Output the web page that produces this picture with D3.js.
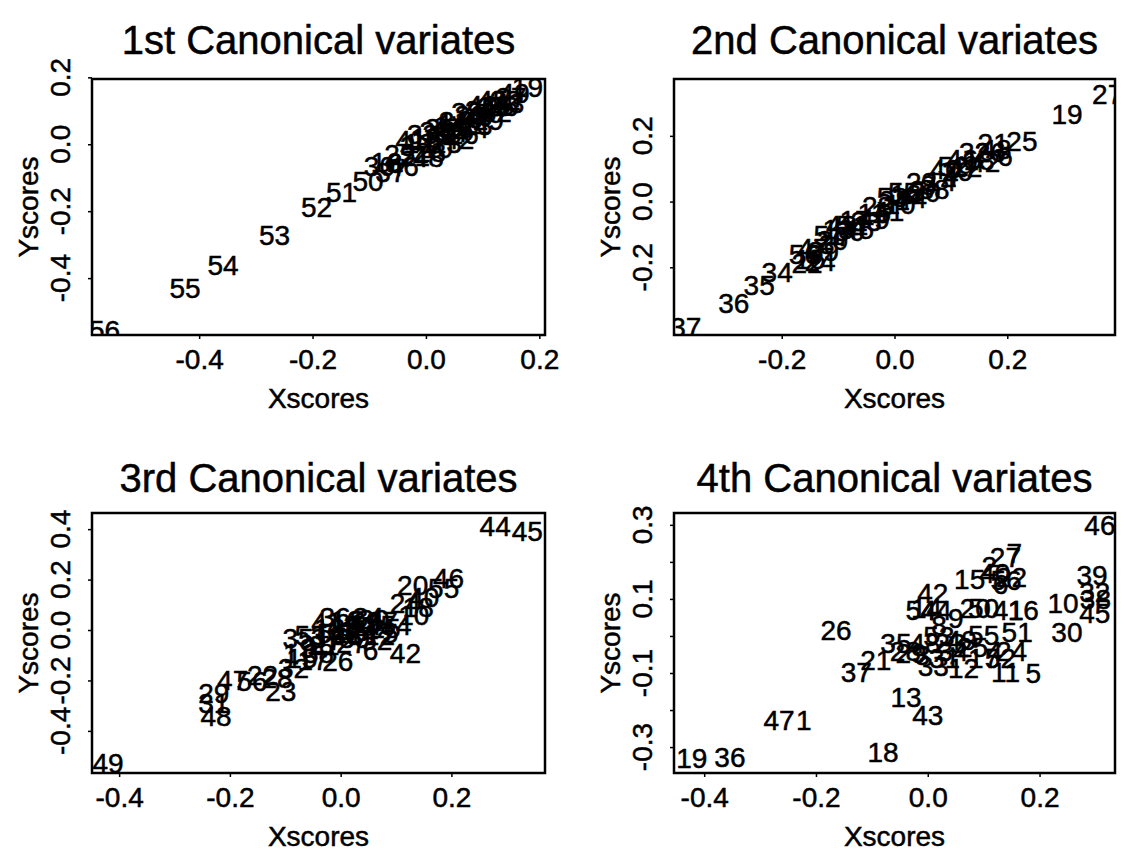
<!DOCTYPE html>
<html>
<head>
<meta charset="utf-8">
<script src="https://cdn.jsdelivr.net/npm/d3@7"></script>
<style>
body {margin:0; background:#fff;}
text {font-family: "Liberation Sans", Arial, sans-serif; fill:#000; stroke:#000; stroke-width:0.5px;}
</style>
</head>
<body>
<div id="chart"></div>
<script>
// observation labels, 56 cases in every panel
var labels = ["1","2","3","4","5","6","7","8","9","10","11","12","13","14","15","16","17","18","19","20",
  "21","22","23","24","25","26","27","28","29","30","31","32","33","34","35","36","37","38","39","40",
  "41","42","43","44","45","46","47","48","49","50","51","52","53","54","55","56"];

var titles = ["1st Canonical variates", "2nd Canonical variates", "3rd Canonical variates", "4th Canonical variates"];

// 1st canonical variates
var x1 = [0.030,0.062,-0.032,0.085,0.012,0.104,0.046,-0.055,0.070,0.020,0.115,-0.012,0.090,0.040,0.128,-0.070,0.054,0.000,0.179,0.078,
  -0.020,0.140,0.036,0.096,-0.046,0.066,0.150,0.008,0.110,-0.082,0.050,0.124,-0.006,0.084,0.026,0.136,-0.062,0.072,0.016,0.100,
  -0.026,0.058,0.146,0.044,0.118,-0.040,0.092,0.004,0.156,-0.102,-0.149,-0.193,-0.267,-0.358,-0.425,-0.567];
var y1 = [0.030,0.046,-0.004,0.080,0.010,0.084,0.038,-0.056,0.072,-0.010,0.114,0.004,0.058,0.054,0.116,-0.052,0.036,0.018,0.171,0.088,
  -0.036,0.132,0.004,0.104,-0.028,0.032,0.142,-0.022,0.074,-0.064,0.070,0.096,0.030,0.048,0.048,0.114,-0.082,0.098,0.040,0.118,
  0.012,0.016,0.124,0.064,0.132,-0.066,0.078,-0.038,0.152,-0.111,-0.141,-0.186,-0.270,-0.360,-0.429,-0.556];

// 2nd canonical variates
var x2 = [-0.060,0.040,-0.120,0.100,-0.020,0.196,-0.090,0.060,-0.140,0.010,-0.040,0.128,-0.100,0.082,-0.150,0.020,-0.070,0.150,0.306,-0.110,
  0.175,-0.155,0.048,-0.132,0.226,0.170,0.378,-0.030,0.112,-0.080,0.000,0.142,-0.050,-0.208,-0.240,-0.285,-0.370,0.070,-0.126,0.090,
  -0.010,0.160,-0.094,0.030,-0.064,0.120,-0.144,0.180,-0.036,0.054,-0.116,0.104,-0.004,-0.076,0.016,-0.160];
var y2 = [-0.070,0.036,-0.128,0.080,-0.034,0.139,-0.104,0.052,-0.160,-0.006,-0.036,0.106,-0.084,0.064,-0.176,0.022,-0.056,0.128,0.267,-0.118,
  0.179,-0.188,0.060,-0.180,0.185,0.150,0.328,-0.012,0.092,-0.090,0.004,0.150,-0.060,-0.215,-0.255,-0.309,-0.382,0.040,-0.150,0.100,
  -0.028,0.120,-0.070,0.010,-0.084,0.130,-0.140,0.160,-0.052,0.030,-0.100,0.110,0.014,-0.070,0.030,-0.160];

// 3rd canonical variates
var x3 = [-0.090,0.020,-0.040,0.060,0.090,0.054,-0.010,0.030,-0.060,0.132,0.000,0.070,-0.020,0.040,-0.070,0.010,-0.050,0.140,0.045,0.130,
  -0.030,-0.141,-0.108,0.117,0.080,-0.005,0.020,-0.115,-0.229,0.060,-0.229,-0.085,0.010,0.050,-0.077,-0.010,0.075,-0.040,0.025,0.150,
  -0.025,0.117,0.005,0.279,0.337,0.195,-0.195,-0.225,-0.420,0.035,-0.015,0.065,-0.055,0.100,0.186,-0.160];
var y3 = [-0.090,0.010,-0.030,0.020,-0.012,-0.079,-0.040,0.040,-0.070,0.060,0.000,-0.020,0.010,-0.010,-0.110,0.040,-0.120,0.090,0.030,0.179,
  -0.060,-0.179,-0.242,0.107,0.010,-0.123,-0.050,-0.190,-0.250,0.045,-0.290,-0.150,-0.020,0.050,-0.032,0.050,0.035,-0.090,-0.030,0.130,
  0.032,-0.091,0.020,0.413,0.393,0.206,-0.198,-0.341,-0.526,0.015,-0.010,-0.040,-0.020,0.020,0.167,-0.200];

// 4th canonical variates
var x4 = [-0.222,0.110,-0.010,0.120,0.189,0.130,0.155,0.020,0.050,0.242,0.139,0.064,-0.039,-0.002,0.075,0.171,0.100,-0.080,-0.422,0.085,
  -0.093,0.150,0.040,0.150,0.080,-0.164,0.139,-0.040,-0.030,0.249,0.030,0.299,0.010,0.045,-0.057,-0.354,-0.128,0.300,0.294,0.120,
  0.144,0.009,0.000,0.015,0.299,0.308,-0.266,-0.005,0.060,0.100,0.160,0.130,0.020,-0.012,0.100,0.140];
var y4 = [-0.227,0.190,-0.050,-0.040,-0.100,0.140,0.225,0.030,0.049,0.089,-0.097,-0.086,-0.165,0.076,0.155,0.070,-0.060,-0.314,-0.330,0.076,
  -0.065,0.160,-0.020,-0.040,-0.030,0.016,0.214,-0.040,-0.046,0.011,-0.060,0.119,-0.080,-0.040,-0.019,-0.327,-0.097,0.100,0.165,0.170,
  0.070,0.116,-0.214,0.070,0.062,0.300,-0.227,-0.019,-0.010,0.076,0.011,-0.060,0.000,0.070,0.003,0.150];

// axis limits and ticks
var xlims = [[-0.589, 0.21], [-0.391, 0.391], [-0.449, 0.369], [-0.454, 0.335]];
var ylims = [[-0.57, 0.195], [-0.406, 0.373], [-0.567, 0.464], [-0.370, 0.332]];
var xTicks = [[-0.4,-0.2,0,0.2], [-0.2,0,0.2], [-0.4,-0.2,0,0.2], [-0.4,-0.2,0,0.2]];
var yTicks = [[-0.4,-0.2,0,0.2], [-0.2,0,0.2], [-0.4,-0.2,0,0.2,0.4], [-0.3,-0.2,-0.1,0,0.1,0.2,0.3]];
var yTickLabels = [null, null, null, [-0.3,-0.1,0.1,0.3]];

var xs = [x1, x2, x3, x4], ys = [y1, y2, y3, y4];

// plot boxes in page pixels, title centre above each
var boxes = [
  {left:92, right:545, top:79, bottom:335, titleY:40},
  {left:674, right:1115, top:79, bottom:335, titleY:40},
  {left:92, right:545, top:513, bottom:773, titleY:478},
  {left:674, right:1115, top:513, bottom:773, titleY:478}
];

var fmt = d3.format(".1f");
function tickText(d) { return fmt(d).replace("\u2212", "-"); }

var svg = d3.select("#chart").append("svg")
  .attr("width", 1124)
  .attr("height", 857);

boxes.forEach(function(b, i) {
  var x = d3.scaleLinear().domain(xlims[i]).range([b.left, b.right]);
  var y = d3.scaleLinear().domain(ylims[i]).range([b.bottom, b.top]);
  var g = svg.append("g");
  var cx = (b.left + b.right) / 2, cy = (b.top + b.bottom) / 2;

  // clip labels to the plot region like R does
  g.append("clipPath").attr("id", "clip" + i)
    .append("rect")
    .attr("x", b.left).attr("y", b.top)
    .attr("width", b.right - b.left).attr("height", b.bottom - b.top);

  var pts = labels.map(function(l, k) { return {label:l, x:xs[i][k], y:ys[i][k]}; });

  g.append("g").attr("clip-path", "url(#clip" + i + ")")
    .selectAll("text")
    .data(pts)
    .enter().append("text")
      .attr("x", function(d) { return x(d.x); })
      .attr("y", function(d) { return y(d.y); })
      .attr("dy", "0.36em")
      .attr("text-anchor", "middle")
      .style("font-size", "28px")
      .text(function(d) { return d.label; });

  // box
  g.append("rect")
    .attr("x", b.left).attr("y", b.top)
    .attr("width", b.right - b.left).attr("height", b.bottom - b.top)
    .attr("fill", "none").attr("stroke", "#000").attr("stroke-width", 2.5);

  // bottom axis
  var xAxis = d3.axisBottom(x).tickValues(xTicks[i]).tickSize(4).tickPadding(10).tickFormat(tickText);
  var ax = g.append("g").attr("transform", "translate(0," + b.bottom + ")").call(xAxis);
  ax.select(".domain").remove();
  ax.selectAll("text").style("font-size", "28px").attr("fill", "#000");
  ax.selectAll("line").attr("stroke-width", 1.5);

  // left axis, labels parallel to the axis
  var ay = g.append("g").attr("transform", "translate(" + b.left + ",0)")
    .call(d3.axisLeft(y).tickValues(yTicks[i]).tickSize(4).tickFormat(""));
  ay.select(".domain").remove();
  ay.selectAll("line").attr("stroke-width", 1.5);
  var shown = yTickLabels[i] || yTicks[i];
  g.selectAll(".ylab")
    .data(shown)
    .enter().append("text")
      .attr("transform", function(d) { return "translate(" + (b.left - 32) + "," + y(d) + ") rotate(-90)"; })
      .attr("text-anchor", "middle")
      .attr("dy", "0.36em")
      .style("font-size", "28px")
      .text(tickText);

  // titles and axis names
  g.append("text")
    .attr("x", cx).attr("y", b.titleY)
    .attr("dy", "0.36em")
    .attr("text-anchor", "middle")
    .style("font-size", "40px")
    .text(titles[i]);

  g.append("text")
    .attr("x", cx).attr("y", b.bottom + 63)
    .attr("dy", "0.36em")
    .attr("text-anchor", "middle")
    .style("font-size", "28px")
    .text("Xscores");

  g.append("text")
    .attr("transform", "translate(" + (b.left - 64) + "," + cy + ") rotate(-90)")
    .attr("dy", "0.36em")
    .attr("text-anchor", "middle")
    .style("font-size", "28px")
    .text("Yscores");
});
</script>
</body>
</html>
